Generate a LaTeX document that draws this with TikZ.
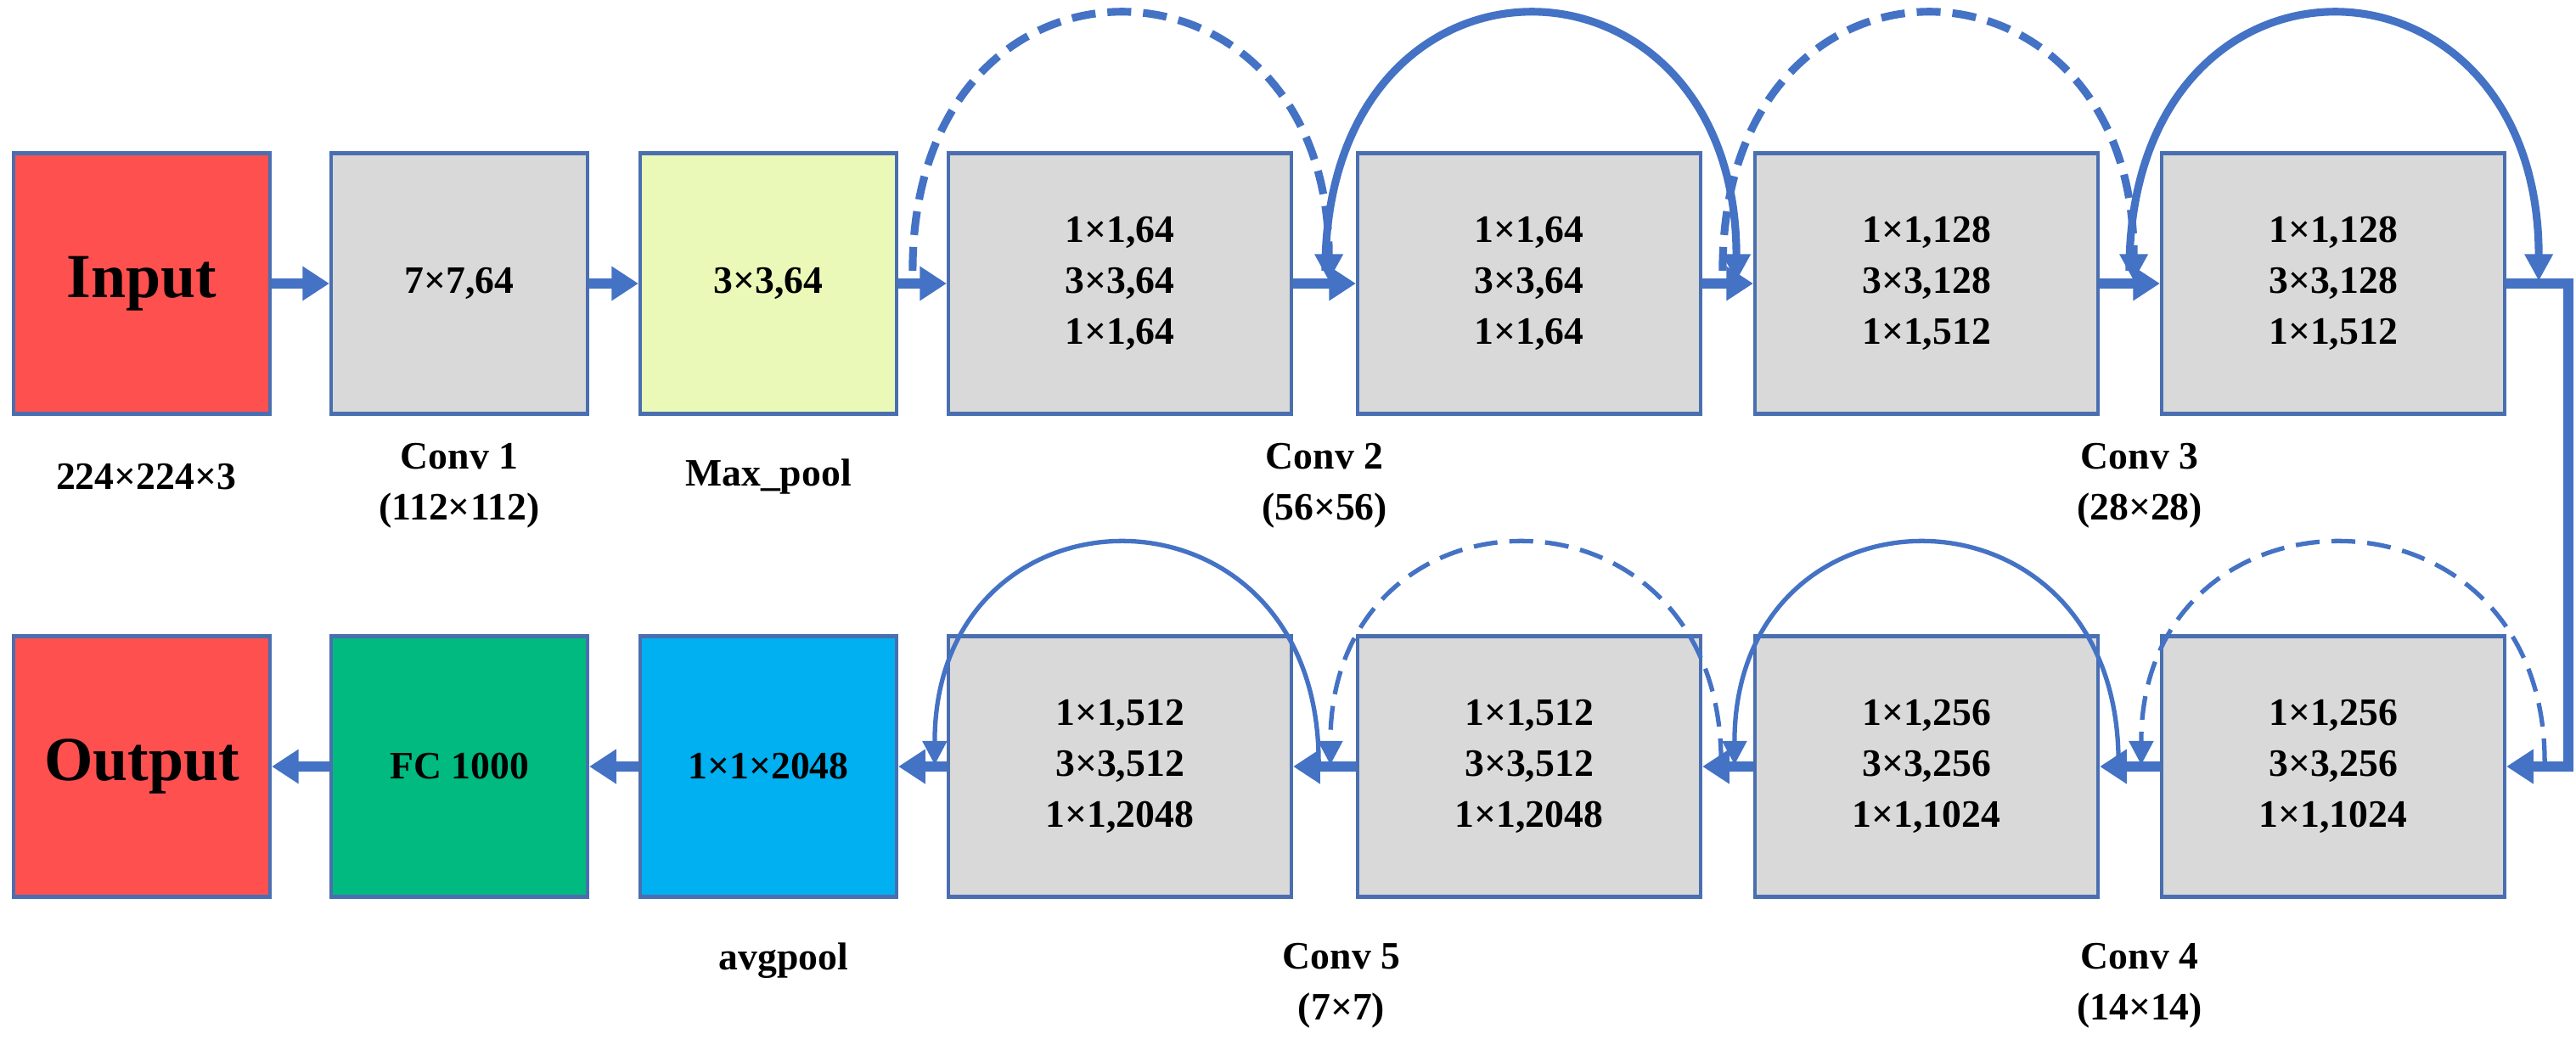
\documentclass[tikz,border=0pt]{standalone}
\usepackage{fontspec}
\setmainfont{Liberation Serif}
\usetikzlibrary{arrows.meta,positioning}
\definecolor{linkblue}{HTML}{4472C4}
\definecolor{edgeblue}{HTML}{4A6FB0}
\definecolor{boxgray}{HTML}{D9D9D9}
\definecolor{boxred}{HTML}{FF5050}
\definecolor{boxyellow}{HTML}{EBF9B8}
\definecolor{boxgreen}{HTML}{00BA80}
\definecolor{boxcyan}{HTML}{00B0F0}
\tikzset{
  blk/.style={draw=edgeblue, line width=1.2pt, minimum height=3.07cm, align=center,
    font=\fontsize{13}{17}\selectfont\bfseries, inner sep=0pt},
  small/.style={blk, minimum width=3.02cm},
  wide/.style={blk, minimum width=4.04cm, fill=boxgray},
  flow/.style={linkblue, line width=3.2pt, -{Triangle[width=11pt,length=9pt]}},
  skip/.style={linkblue, line width=2.6pt, -{Triangle[width=9pt,length=9pt]}},
  thinskip/.style={linkblue, line width=1.5pt, -{Triangle[width=8pt,length=8pt]}},
  brk/.style={dash pattern=on 8pt off 4pt},
  lbl/.style={font=\fontsize{13}{17}\selectfont\bfseries, align=center}
}
\begin{document}
\begin{tikzpicture}
    \useasboundingbox (0,0) rectangle (30.34,12.23);

    % Top row
    \node[small, fill=boxred, font=\fontsize{21}{25}\selectfont\bfseries] (input) at (1.67,8.89) {Input};
    \node[small, fill=boxgray] (conv1) at (5.41,8.89) {7×7,64};
    \node[small, fill=boxyellow] (pool) at (9.05,8.89) {3×3,64};
    \node[wide] (c2a) at (13.19,8.89) {1×1,64\\3×3,64\\1×1,64};
    \node[wide] (c2b) at (18.01,8.89) {1×1,64\\3×3,64\\1×1,64};
    \node[wide] (c3a) at (22.69,8.89) {1×1,128\\3×3,128\\1×1,512};
    \node[wide] (c3b) at (27.48,8.89) {1×1,128\\3×3,128\\1×1,512};

    % Bottom row
    \node[wide] (c4a) at (27.48,3.20) {1×1,256\\3×3,256\\1×1,1024};
    \node[wide] (c4b) at (22.69,3.20) {1×1,256\\3×3,256\\1×1,1024};
    \node[wide] (c5a) at (18.01,3.20) {1×1,512\\3×3,512\\1×1,2048};
    \node[wide] (c5b) at (13.19,3.20) {1×1,512\\3×3,512\\1×1,2048};
    \node[small, fill=boxcyan] (avg) at (9.05,3.20) {1×1×2048};
    \node[small, fill=boxgreen] (fc) at (5.41,3.20) {FC 1000};
    \node[small, fill=boxred, font=\fontsize{21}{25}\selectfont\bfseries] (output) at (1.67,3.20) {Output};

    % Labels
    \node[lbl] at (1.72,6.61) {224×224×3};
    \node[lbl] at (5.41,6.51) {Conv 1\\(112×112)};
    \node[lbl] at (9.05,6.61) {Max\_pool};
    \node[lbl] at (15.6,6.51) {Conv 2\\(56×56)};
    \node[lbl] at (25.2,6.51) {Conv 3\\(28×28)};
    \node[lbl] at (9.23,0.91) {avgpool};
    \node[lbl] at (15.8,0.62) {Conv 5\\(7×7)};
    \node[lbl] at (25.2,0.62) {Conv 4\\(14×14)};

    % Main flow
    \draw[flow] (input) -- (conv1);
    \draw[flow] (conv1) -- (pool);
    \draw[flow] (pool) -- (c2a);
    \draw[flow] (c2a) -- (c2b);
    \draw[flow] (c2b) -- (c3a);
    \draw[flow] (c3a) -- (c3b);
    \coordinate (turn) at (30.25,8.89);
    \draw[flow] (c3b.east) -| (turn) |- (c4a.east);
    \draw[flow] (c4a) -- (c4b);
    \draw[flow] (c4b) -- (c5a);
    \draw[flow] (c5a) -- (c5b);
    \draw[flow] (c5b) -- (avg);
    \draw[flow] (avg) -- (fc);
    \draw[flow] (fc) -- (output);

    % Shortcuts, top row
    \draw[skip, brk] ([shift={(-0.40,0.15)}]c2a.west) .. controls +(0,4.1) and +(0,4.1) .. ([shift={(0.42,0.03)}]c2a.east);
    \draw[skip] ([shift={(-0.36,0.15)}]c2b.west) .. controls +(0,4.1) and +(0,4.1) .. ([shift={(0.40,0.03)}]c2b.east);
    \draw[skip, brk] ([shift={(-0.36,0.15)}]c3a.west) .. controls +(0,4.1) and +(0,4.1) .. ([shift={(0.40,0.03)}]c3a.east);
    \draw[skip] ([shift={(-0.36,0.15)}]c3b.west) .. controls +(0,4.1) and +(0,4.1) .. ([shift={(0.38,0.03)}]c3b.east);

    % Shortcuts, bottom row
    \draw[thinskip, brk] ([shift={(0.45,0.05)}]c4a.east) .. controls +(0,3.45) and +(0,3.45) .. ([shift={(-0.22,0.02)}]c4a.west);
    \draw[thinskip] ([shift={(0.22,0.05)}]c4b.east) .. controls +(0,3.45) and +(0,3.45) .. ([shift={(-0.22,0.02)}]c4b.west);
    \draw[thinskip, brk] ([shift={(0.22,0.05)}]c5a.east) .. controls +(0,3.45) and +(0,3.45) .. ([shift={(-0.30,0.02)}]c5a.west);
    \draw[thinskip] ([shift={(0.30,0.05)}]c5b.east) .. controls +(0,3.45) and +(0,3.45) .. ([shift={(-0.14,0.02)}]c5b.west);
\end{tikzpicture}
\end{document}
